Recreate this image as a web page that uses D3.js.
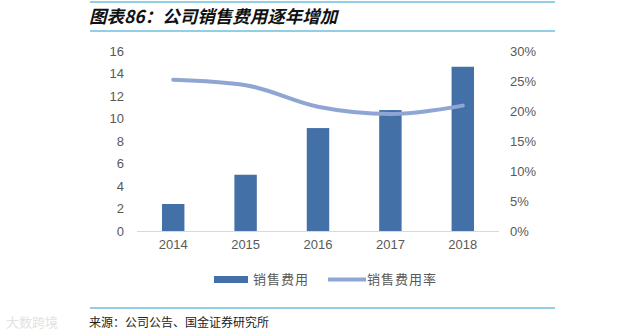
<!DOCTYPE html>
<html>
<head>
<meta charset="utf-8">
<script src="https://cdn.jsdelivr.net/npm/d3@7/dist/d3.min.js"></script>
<style>
  body { margin: 0; background: #fff; }
  svg { display: block; }
</style>
</head>
<body>
<div id="chart"></div>
<script>
var years = ["2014", "2015", "2016", "2017", "2018"];
var salesExpense = [2.4, 5.0, 9.15, 10.75, 14.6];
var salesExpenseRate = [0.252, 0.243, 0.207, 0.195, 0.209];
var leftTicks = [0, 2, 4, 6, 8, 10, 12, 14, 16];
var rightTicks = [0, 0.05, 0.1, 0.15, 0.2, 0.25, 0.3];
var legendNames = ["销售费用", "销售费用率"];

drawChart();

function drawChart() {
  var width = 643, height = 334;
  var svg = d3.select("#chart").append("svg")
    .attr("width", width).attr("height", height);

  var cjk = "'Noto Sans CJK SC', sans-serif";
  var latin = "'Liberation Sans', Arial, sans-serif";

  // header rules + title
  svg.append("line").attr("x1", 90).attr("x2", 555).attr("y1", 2).attr("y2", 2)
    .attr("stroke", "#93cde6").attr("stroke-width", 2);
  svg.append("line").attr("x1", 90).attr("x2", 555).attr("y1", 31).attr("y2", 31)
    .attr("stroke", "#93cde6").attr("stroke-width", 2);
  svg.append("text").attr("x", 89).attr("y", 23)
    .attr("font-family", cjk).attr("font-size", 17.5).attr("font-weight", "bold")
    .attr("font-style", "italic").attr("fill", "#111")
    .text("图表86：公司销售费用逐年增加");

  var x = d3.scaleBand().domain(years).range([137, 499]).paddingInner(0.69).paddingOuter(0.345);
  var yL = d3.scaleLinear().domain([0, 16]).range([231, 51]);
  var yR = d3.scaleLinear().domain([0, 0.3]).range([231, 51]);

  // bars
  svg.append("g").selectAll("rect").data(salesExpense).enter().append("rect")
    .attr("x", function(d, i) { return x(years[i]); })
    .attr("width", x.bandwidth())
    .attr("y", function(d) { return yL(d); })
    .attr("height", function(d) { return yL(0) - yL(d); })
    .attr("fill", "#4470a8");

  // baseline
  svg.append("line").attr("x1", 137).attr("x2", 499).attr("y1", 231.5).attr("y2", 231.5)
    .attr("stroke", "#d9d9d9").attr("stroke-width", 1);

  // rate line
  var line = d3.line()
    .x(function(d, i) { return x(years[i]) + x.bandwidth() / 2; })
    .y(function(d) { return yR(d); })
    .curve(d3.curveMonotoneX);
  svg.append("path").datum(salesExpenseRate)
    .attr("d", line).attr("fill", "none")
    .attr("stroke", "#8fa6d4").attr("stroke-width", 4).attr("stroke-linecap", "round");

  // axes
  var left = svg.append("g").attr("transform", "translate(137,0)")
    .call(d3.axisLeft(yL).tickValues(leftTicks).tickSize(0).tickPadding(13));
  var right = svg.append("g").attr("transform", "translate(499,0)")
    .call(d3.axisRight(yR).tickValues(rightTicks).tickSize(0).tickPadding(11)
      .tickFormat(d3.format(".0%")));
  var bottom = svg.append("g").attr("transform", "translate(0,231)")
    .call(d3.axisBottom(x).tickSize(0).tickPadding(9));
  [left, right, bottom].forEach(function(g) {
    g.select(".domain").remove();
    g.selectAll("text").attr("font-family", latin).attr("font-size", 13).attr("fill", "#595959");
  });

  // legend
  var lg = svg.append("g").attr("font-family", cjk).attr("font-size", 13).attr("fill", "#595959");
  lg.append("rect").attr("x", 214).attr("y", 276).attr("width", 34).attr("height", 7).attr("fill", "#4470a8");
  lg.append("text").attr("x", 253).attr("y", 284).attr("letter-spacing", 1).text(legendNames[0]);
  lg.append("line").attr("x1", 328).attr("x2", 366).attr("y1", 279.5).attr("y2", 279.5)
    .attr("stroke", "#8fa6d4").attr("stroke-width", 4);
  lg.append("text").attr("x", 367).attr("y", 284).attr("letter-spacing", 1).text(legendNames[1]);

  // footer
  svg.append("line").attr("x1", 90).attr("x2", 555).attr("y1", 308).attr("y2", 308)
    .attr("stroke", "#93cde6").attr("stroke-width", 2);
  svg.append("text").attr("x", 6).attr("y", 327)
    .attr("font-family", cjk).attr("font-size", 13).attr("fill", "#e2e2e2")
    .text("大数跨境");
  svg.append("text").attr("x", 89).attr("y", 327)
    .attr("font-family", cjk).attr("font-size", 12).attr("fill", "#222")
    .text("来源：公司公告、国金证券研究所");
}
</script>
</body>
</html>
